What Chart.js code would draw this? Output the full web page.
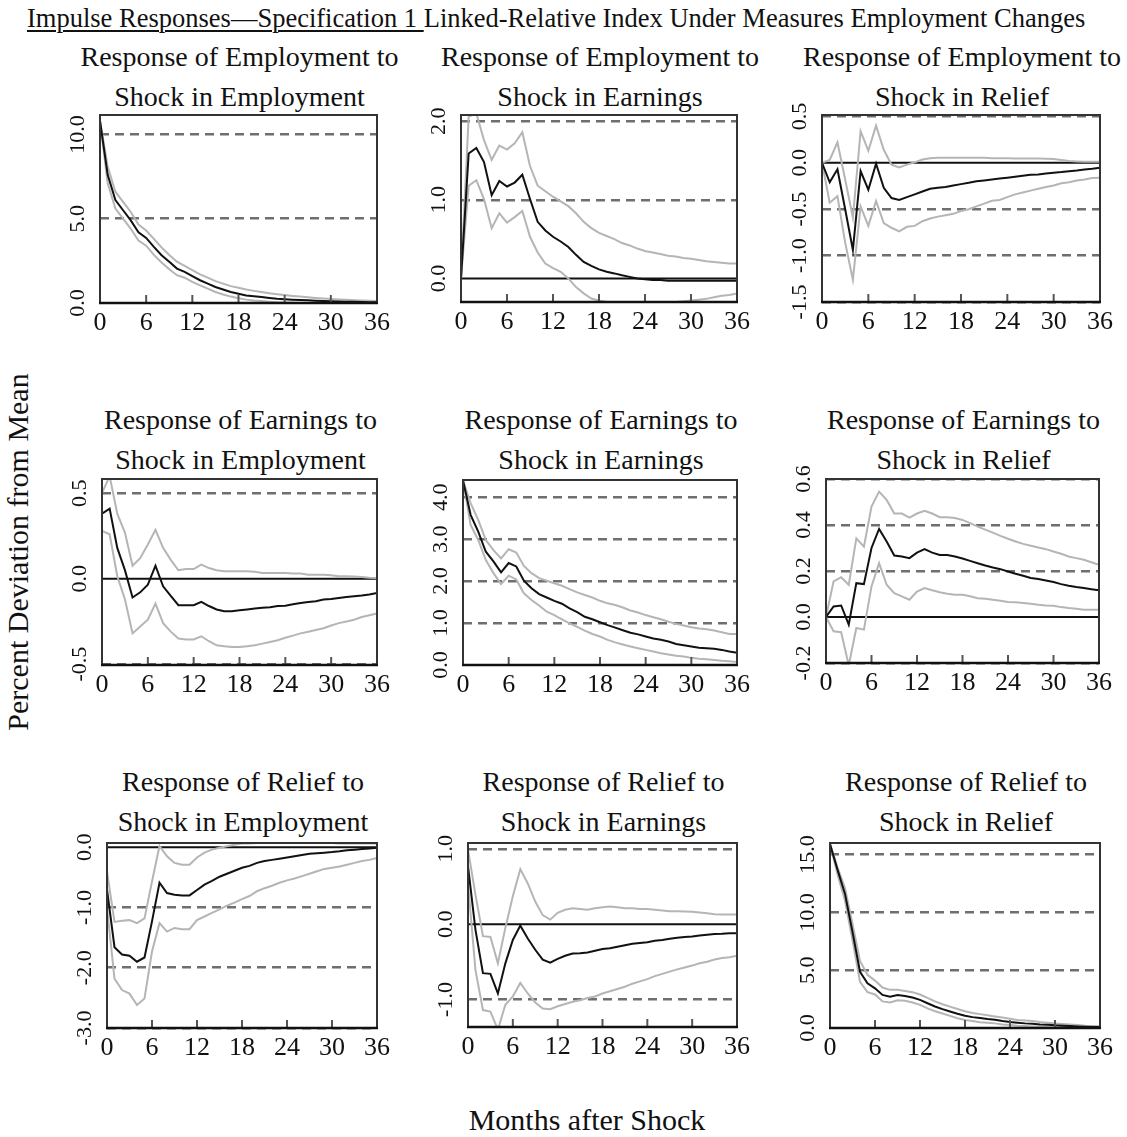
<!DOCTYPE html>
<html>
<head>
<meta charset="utf-8">
<title>Impulse Responses</title>
<script src="https://cdn.jsdelivr.net/npm/chart.js@4"></script>
<style>
  body {
    margin: 0;
    width: 1127px;
    height: 1137px;
    position: relative;
    overflow: hidden;
    background: #fff;
    color: #111;
    font-family: 'Liberation Serif', 'Times New Roman', serif;
  }
  .abs { position: absolute; }
  #head { left: 27px; top: 3px; font-size: 26.5px; line-height: 30px; white-space: nowrap; }
  #head u { text-decoration-thickness: 2px; text-underline-offset: 3px; }
  .ttl { font-size: 28px; line-height: 40px; text-align: center; white-space: nowrap; transform: translateX(-50%); }
  #ylab { left: 18px; top: 552px; font-size: 30px; white-space: nowrap; transform: translate(-50%, -50%) rotate(-90deg); }
  #xlab { left: 587px; top: 1120px; font-size: 30px; white-space: nowrap; transform: translate(-50%, -50%); }
  canvas { position: absolute; }
</style>
</head>
<body>
<div id="head" class="abs"><u>Impulse Responses—Specification 1 </u>Linked-Relative Index Under Measures Employment Changes</div>
<div id="ylab" class="abs">Percent Deviation from Mean</div>
<div id="xlab" class="abs">Months after Shock</div>

<script>
// horizon in months
const months = [0, 1, 2, 3, 4, 5, 6, 7, 8, 9, 10, 11, 12, 13, 14, 15, 16, 17, 18,
  19, 20, 21, 22, 23, 24, 25, 26, 27, 28, 29, 30, 31, 32, 33, 34, 35, 36];
const monthTicks = [0, 6, 12, 18, 24, 30, 36];

// Employment <- Employment
const empEmpMid = [10.8, 7.6, 6.1, 5.5, 4.9, 4.2, 3.86, 3.33, 2.83, 2.44, 2.04, 1.85, 1.6, 1.35, 1.15, 0.95, 0.8, 0.65, 0.55, 0.45, 0.4, 0.36, 0.3, 0.25, 0.22, 0.2, 0.18, 0.16, 0.14, 0.12, 0.11, 0.09, 0.08, 0.07, 0.06, 0.05, 0.05];
const empEmpUp = [10.8, 8.1, 6.6, 6.0, 5.4, 4.65, 4.3, 3.8, 3.3, 2.85, 2.45, 2.2, 1.95, 1.7, 1.5, 1.3, 1.15, 1.0, 0.9, 0.8, 0.72, 0.65, 0.58, 0.52, 0.47, 0.42, 0.38, 0.34, 0.3, 0.27, 0.24, 0.21, 0.19, 0.17, 0.15, 0.13, 0.12];
const empEmpLo = [10.8, 7.1, 5.6, 5.0, 4.4, 3.7, 3.4, 2.85, 2.4, 2.0, 1.65, 1.5, 1.25, 1.05, 0.85, 0.65, 0.5, 0.38, 0.28, 0.2, 0.15, 0.12, 0.08, 0.05, 0.03, 0.02, 0.0, -0.01, -0.02, -0.02, -0.03, -0.03, -0.03, -0.03, -0.03, -0.02, -0.02];
const empEmpTicks = [0, 5, 10];

// Employment <- Earnings
const empEarnMid = [0, 1.59, 1.66, 1.48, 1.06, 1.24, 1.17, 1.22, 1.32, 1.01, 0.72, 0.61, 0.53, 0.47, 0.40, 0.30, 0.21, 0.16, 0.115, 0.085, 0.064, 0.04, 0.02, 0.0, -0.01, -0.02, -0.02, -0.03, -0.03, -0.03, -0.03, -0.03, -0.03, -0.03, -0.03, -0.03, -0.03];
const empEarnUp = [0, 2.06, 2.1, 1.76, 1.51, 1.69, 1.64, 1.72, 1.86, 1.43, 1.18, 1.11, 1.04, 0.98, 0.92, 0.83, 0.72, 0.64, 0.58, 0.54, 0.50, 0.45, 0.42, 0.38, 0.35, 0.33, 0.31, 0.29, 0.28, 0.26, 0.25, 0.235, 0.22, 0.21, 0.20, 0.19, 0.19];
const empEarnLo = [0, 1.18, 1.25, 1.01, 0.64, 0.83, 0.71, 0.78, 0.86, 0.53, 0.33, 0.19, 0.13, 0.085, 0.0, -0.11, -0.19, -0.255, -0.28, -0.30, -0.31, -0.32, -0.32, -0.32, -0.32, -0.32, -0.32, -0.31, -0.30, -0.29, -0.28, -0.27, -0.26, -0.24, -0.22, -0.21, -0.19];
const empEarnTicks = [0, 1, 2];

// Employment <- Relief
const empRelMid = [0, -0.21, -0.07, -0.5, -0.94, -0.09, -0.29, -0.01, -0.27, -0.38, -0.40, -0.37, -0.34, -0.31, -0.28, -0.27, -0.26, -0.245, -0.23, -0.216, -0.20, -0.19, -0.18, -0.17, -0.16, -0.15, -0.14, -0.13, -0.126, -0.115, -0.108, -0.10, -0.09, -0.083, -0.072, -0.065, -0.054];
const empRelUp = [0, 0.03, 0.22, -0.18, -0.59, 0.34, 0.13, 0.40, 0.14, -0.02, -0.05, -0.02, 0.005, 0.035, 0.05, 0.054, 0.054, 0.054, 0.054, 0.054, 0.054, 0.054, 0.05, 0.05, 0.05, 0.047, 0.047, 0.045, 0.045, 0.043, 0.04, 0.03, 0.02, 0.015, 0.01, 0.01, 0.01];
const empRelLo = [0, -0.43, -0.36, -0.86, -1.26, -0.47, -0.68, -0.41, -0.65, -0.70, -0.74, -0.69, -0.68, -0.63, -0.60, -0.58, -0.565, -0.55, -0.52, -0.50, -0.47, -0.44, -0.41, -0.40, -0.37, -0.34, -0.32, -0.30, -0.28, -0.26, -0.245, -0.22, -0.21, -0.19, -0.18, -0.165, -0.16];
const empRelTicks = [-1.5, -1, -0.5, 0, 0.5];

// Earnings <- Employment
const earnEmpMid = [0.38, 0.41, 0.18, 0.05, -0.11, -0.08, -0.035, 0.076, -0.045, -0.10, -0.155, -0.155, -0.155, -0.136, -0.16, -0.18, -0.19, -0.19, -0.185, -0.18, -0.175, -0.17, -0.167, -0.16, -0.158, -0.15, -0.142, -0.136, -0.132, -0.122, -0.119, -0.113, -0.107, -0.103, -0.099, -0.093, -0.084];
const earnEmpUp = [0.50, 0.60, 0.38, 0.27, 0.076, 0.12, 0.20, 0.286, 0.18, 0.11, 0.049, 0.056, 0.056, 0.082, 0.062, 0.049, 0.043, 0.043, 0.043, 0.043, 0.04, 0.033, 0.033, 0.033, 0.033, 0.03, 0.03, 0.023, 0.023, 0.023, 0.02, 0.014, 0.014, 0.012, 0.01, 0.006, 0.004];
const earnEmpLo = [0.28, 0.26, 0.014, -0.12, -0.32, -0.28, -0.24, -0.146, -0.26, -0.31, -0.35, -0.356, -0.356, -0.337, -0.366, -0.39, -0.395, -0.40, -0.40, -0.395, -0.39, -0.38, -0.37, -0.36, -0.346, -0.333, -0.32, -0.31, -0.30, -0.29, -0.274, -0.26, -0.25, -0.24, -0.224, -0.214, -0.204];
const earnEmpTicks = [-0.5, 0, 0.5];

// Earnings <- Earnings
const earnEarnMid = [4.40, 3.58, 3.18, 2.70, 2.47, 2.21, 2.43, 2.35, 2.01, 1.83, 1.69, 1.61, 1.53, 1.46, 1.35, 1.26, 1.15, 1.09, 1.02, 0.95, 0.89, 0.83, 0.77, 0.73, 0.68, 0.63, 0.60, 0.56, 0.50, 0.47, 0.44, 0.41, 0.40, 0.39, 0.36, 0.32, 0.29];
const earnEarnUp = [4.40, 3.86, 3.46, 2.98, 2.74, 2.54, 2.76, 2.68, 2.36, 2.19, 2.07, 2.01, 1.95, 1.89, 1.81, 1.73, 1.67, 1.61, 1.53, 1.47, 1.43, 1.37, 1.30, 1.25, 1.19, 1.14, 1.09, 1.03, 0.98, 0.94, 0.90, 0.87, 0.85, 0.82, 0.78, 0.74, 0.74];
const earnEarnLo = [4.40, 3.34, 2.98, 2.50, 2.19, 1.93, 2.13, 2.04, 1.71, 1.55, 1.42, 1.27, 1.19, 1.09, 0.99, 0.91, 0.82, 0.74, 0.68, 0.60, 0.54, 0.49, 0.44, 0.40, 0.36, 0.32, 0.28, 0.25, 0.22, 0.20, 0.17, 0.15, 0.135, 0.12, 0.10, 0.09, 0.07];
const earnEarnTicks = [0, 1, 2, 3, 4];

// Earnings <- Relief
const earnRelMid = [0, 0.046, 0.05, -0.033, 0.147, 0.143, 0.30, 0.383, 0.328, 0.267, 0.263, 0.256, 0.28, 0.295, 0.28, 0.27, 0.27, 0.263, 0.254, 0.244, 0.234, 0.224, 0.215, 0.208, 0.198, 0.188, 0.179, 0.17, 0.165, 0.159, 0.152, 0.143, 0.136, 0.13, 0.126, 0.121, 0.116];
const earnRelUp = [0, 0.155, 0.173, 0.14, 0.342, 0.306, 0.48, 0.545, 0.509, 0.45, 0.45, 0.432, 0.45, 0.462, 0.45, 0.434, 0.434, 0.43, 0.422, 0.408, 0.393, 0.38, 0.367, 0.353, 0.34, 0.328, 0.318, 0.31, 0.302, 0.295, 0.285, 0.275, 0.263, 0.256, 0.249, 0.238, 0.227];
const earnRelLo = [0, -0.062, -0.066, -0.21, -0.048, -0.055, 0.133, 0.234, 0.14, 0.104, 0.09, 0.075, 0.111, 0.126, 0.116, 0.108, 0.101, 0.097, 0.097, 0.09, 0.082, 0.079, 0.075, 0.071, 0.065, 0.064, 0.061, 0.058, 0.053, 0.05, 0.049, 0.043, 0.039, 0.036, 0.032, 0.032, 0.032];
const earnRelTicks = [-0.2, 0, 0.2, 0.4, 0.6];

// Relief <- Employment
const relEmpMid = [-0.70, -1.66, -1.78, -1.80, -1.90, -1.83, -1.23, -0.59, -0.76, -0.79, -0.80, -0.80, -0.71, -0.62, -0.56, -0.49, -0.44, -0.39, -0.34, -0.31, -0.26, -0.23, -0.21, -0.19, -0.17, -0.15, -0.13, -0.11, -0.10, -0.09, -0.08, -0.067, -0.05, -0.04, -0.03, -0.02, -0.01];
const relEmpUp = [-0.40, -1.24, -1.22, -1.21, -1.26, -1.18, -0.57, 0.02, -0.15, -0.26, -0.29, -0.29, -0.17, -0.09, -0.04, -0.01, 0.017, 0.04, 0.06, 0.06, 0.07, 0.07, 0.07, 0.07, 0.07, 0.07, 0.07, 0.07, 0.07, 0.07, 0.07, 0.06, 0.06, 0.06, 0.06, 0.06, 0.06];
const relEmpLo = [-1.0, -2.18, -2.37, -2.43, -2.62, -2.51, -1.73, -1.26, -1.40, -1.34, -1.36, -1.36, -1.21, -1.15, -1.09, -1.03, -0.97, -0.92, -0.86, -0.81, -0.73, -0.68, -0.64, -0.59, -0.55, -0.52, -0.48, -0.44, -0.40, -0.36, -0.34, -0.32, -0.29, -0.26, -0.23, -0.21, -0.18];
const relEmpTicks = [-3, -2, -1, 0];

// Relief <- Earnings
const relEarnMid = [0.77, -0.075, -0.65, -0.66, -0.92, -0.52, -0.21, -0.02, -0.19, -0.34, -0.47, -0.51, -0.46, -0.42, -0.39, -0.385, -0.376, -0.354, -0.33, -0.32, -0.30, -0.28, -0.26, -0.25, -0.24, -0.22, -0.21, -0.195, -0.18, -0.17, -0.165, -0.15, -0.14, -0.13, -0.128, -0.12, -0.12];
const relEarnUp = [0.99, 0.39, -0.16, -0.17, -0.52, -0.05, 0.37, 0.73, 0.54, 0.30, 0.12, 0.06, 0.15, 0.19, 0.21, 0.20, 0.19, 0.21, 0.225, 0.235, 0.225, 0.21, 0.21, 0.20, 0.20, 0.19, 0.18, 0.17, 0.17, 0.168, 0.164, 0.155, 0.146, 0.133, 0.128, 0.128, 0.128];
const relEarnLo = [0.54, -0.61, -1.14, -1.16, -1.40, -1.07, -0.96, -0.78, -0.92, -1.04, -1.12, -1.13, -1.09, -1.06, -1.03, -1.01, -0.98, -0.96, -0.92, -0.89, -0.86, -0.83, -0.79, -0.76, -0.73, -0.69, -0.66, -0.63, -0.60, -0.575, -0.55, -0.52, -0.50, -0.47, -0.45, -0.44, -0.42];
const relEarnTicks = [-1, 0, 1];

// Relief <- Relief
const relRelMid = [15.9, 13.7, 11.6, 8.3, 4.86, 3.86, 3.43, 2.86, 2.71, 2.86, 2.77, 2.63, 2.43, 2.14, 1.86, 1.63, 1.43, 1.23, 1.06, 0.94, 0.86, 0.77, 0.71, 0.60, 0.51, 0.46, 0.40, 0.37, 0.31, 0.29, 0.23, 0.20, 0.17, 0.14, 0.11, 0.09, 0.09];
const relRelUp = [15.9, 13.9, 12.1, 9.0, 5.8, 4.6, 4.1, 3.5, 3.3, 3.3, 3.2, 3.1, 2.9, 2.6, 2.3, 2.05, 1.85, 1.65, 1.45, 1.3, 1.2, 1.1, 1.0, 0.9, 0.8, 0.7, 0.65, 0.6, 0.52, 0.46, 0.4, 0.35, 0.3, 0.25, 0.2, 0.18, 0.16];
const relRelLo = [15.9, 13.3, 11.0, 7.6, 4.0, 3.1, 2.9, 2.3, 2.2, 2.4, 2.35, 2.2, 2.0, 1.7, 1.45, 1.25, 1.05, 0.85, 0.7, 0.6, 0.5, 0.45, 0.4, 0.3, 0.25, 0.2, 0.17, 0.14, 0.1, 0.08, 0.05, 0.04, 0.03, 0.02, 0.01, 0.0, 0.0];
const relRelTicks = [0, 5, 10, 15];

// panel layout: plot box [left, top, right, bottom] in page pixels
const panels = [
  { title: ['Response of Employment to', 'Shock in Employment'], mid: empEmpMid, up: empEmpUp, lo: empEmpLo, ticks: empEmpTicks, min: 0, max: 11.15, box: [100, 115, 377, 303], titleTop: 37 },
  { title: ['Response of Employment to', 'Shock in Earnings'], mid: empEarnMid, up: empEarnUp, lo: empEarnLo, ticks: empEarnTicks, min: -0.3, max: 2.08, box: [461, 115, 737, 302], titleTop: 37 },
  { title: ['Response of Employment to', 'Shock in Relief'], mid: empRelMid, up: empRelUp, lo: empRelLo, ticks: empRelTicks, min: -1.5, max: 0.515, box: [822, 115, 1100, 302], titleTop: 37 },
  { title: ['Response of Earnings to', 'Shock in Employment'], mid: earnEmpMid, up: earnEmpUp, lo: earnEmpLo, ticks: earnEmpTicks, min: -0.505, max: 0.583, box: [102, 479, 377, 665], titleTop: 400 },
  { title: ['Response of Earnings to', 'Shock in Earnings'], mid: earnEarnMid, up: earnEarnUp, lo: earnEarnLo, ticks: earnEarnTicks, min: 0, max: 4.41, box: [463, 480, 737, 665], titleTop: 400 },
  { title: ['Response of Earnings to', 'Shock in Relief'], mid: earnRelMid, up: earnRelUp, lo: earnRelLo, ticks: earnRelTicks, min: -0.2, max: 0.6, box: [826, 479, 1099, 663], titleTop: 400 },
  { title: ['Response of Relief to', 'Shock in Employment'], mid: relEmpMid, up: relEmpUp, lo: relEmpLo, ticks: relEmpTicks, min: -3.0, max: 0.07, box: [107, 843, 377, 1028], titleTop: 762 },
  { title: ['Response of Relief to', 'Shock in Earnings'], mid: relEarnMid, up: relEarnUp, lo: relEarnLo, ticks: relEarnTicks, min: -1.365, max: 1.077, box: [468, 843, 737, 1027], titleTop: 762 },
  { title: ['Response of Relief to', 'Shock in Relief'], mid: relRelMid, up: relRelUp, lo: relRelLo, ticks: relRelTicks, min: 0, max: 16.0, box: [830, 843, 1100, 1028], titleTop: 762 }
];

const FONT = "'Liberation Serif', 'Times New Roman', serif";
const ML = 60, MT = 24, MR = 30, MB = 44;
const Y_FONT = 22, X_FONT = 26;

// box around the plot plus short inward ticks on the month axis
const framePlugin = {
  id: 'frame',
  afterDatasetsDraw(chart) {
    const { ctx, chartArea: a } = chart;
    const xs = chart.scales.x;
    ctx.save();
    ctx.strokeStyle = '#555';
    ctx.lineWidth = 2;
    xs.ticks.forEach(t => {
      const px = xs.getPixelForValue(t.value);
      ctx.beginPath();
      ctx.moveTo(px, a.bottom);
      ctx.lineTo(px, a.bottom - 8);
      ctx.stroke();
    });
    ctx.strokeStyle = '#333';
    ctx.beginPath();
    ctx.moveTo(a.left, a.bottom);
    ctx.lineTo(a.left, a.top);
    ctx.lineTo(a.right, a.top);
    ctx.lineTo(a.right, a.bottom);
    ctx.stroke();
    ctx.strokeStyle = '#111';
    ctx.lineWidth = 2.5;
    ctx.beginPath();
    ctx.moveTo(a.left - 1, a.bottom);
    ctx.lineTo(a.right + 1, a.bottom);
    ctx.stroke();
    ctx.restore();
  }
};

// solid reference line at zero
const zeroPlugin = {
  id: 'zeroLine',
  beforeDatasetsDraw(chart) {
    const y = chart.scales.y;
    if (y.min > 0 || y.max < 0) return;
    const py = y.getPixelForValue(0);
    const { ctx, chartArea: a } = chart;
    ctx.save();
    ctx.strokeStyle = '#111';
    ctx.lineWidth = 2;
    ctx.beginPath();
    ctx.moveTo(a.left, py);
    ctx.lineTo(a.right, py);
    ctx.stroke();
    ctx.restore();
  }
};

const measureCtx = document.createElement('canvas').getContext('2d');
measureCtx.font = Y_FONT + 'px ' + FONT;

function fmt(v) { return v.toFixed(1); }

panels.forEach(p => {
  const [L, T, R, B] = p.box;

  const t = document.createElement('div');
  t.className = 'abs ttl';
  t.style.left = ((L + R) / 2 + 1) + 'px';
  t.style.top = p.titleTop + 'px';
  t.innerHTML = p.title.join('<br>');
  document.body.appendChild(t);

  const canvas = document.createElement('canvas');
  canvas.width = R - L + ML + MR;
  canvas.height = B - T + MT + MB;
  canvas.style.left = (L - ML) + 'px';
  canvas.style.top = (T - MT) + 'px';
  document.body.appendChild(canvas);

  // centre the rotated y labels 22px left of the box
  const widest = Math.max(...p.ticks.map(v => measureCtx.measureText(fmt(v)).width));
  const yPad = 22 - widest / 2;

  new Chart(canvas, {
    type: 'line',
    data: {
      datasets: [
        { data: months.map((m, i) => ({ x: m, y: p.mid[i] })), borderColor: '#111', borderWidth: 2 },
        { data: months.map((m, i) => ({ x: m, y: p.up[i] })), borderColor: '#b5b5b5', borderWidth: 2 },
        { data: months.map((m, i) => ({ x: m, y: p.lo[i] })), borderColor: '#b5b5b5', borderWidth: 2 }
      ]
    },
    options: {
      responsive: false,
      animation: false,
      events: [],
      clip: 0,
      elements: { point: { radius: 0 }, line: { tension: 0 } },
      layout: { padding: { left: 0, top: MT, right: MR, bottom: 0 } },
      plugins: { legend: { display: false }, tooltip: { enabled: false } },
      scales: {
        x: {
          type: 'linear',
          min: 0,
          max: 36,
          afterBuildTicks: s => { s.ticks = monthTicks.map(v => ({ value: v })); },
          afterFit: s => { s.height = MB; },
          grid: { display: false, drawTicks: false },
          border: { display: false },
          ticks: { font: { family: FONT, size: X_FONT }, color: '#111', padding: 5, maxRotation: 0, autoSkip: false }
        },
        y: {
          type: 'linear',
          min: p.min,
          max: p.max,
          afterBuildTicks: s => { s.ticks = p.ticks.map(v => ({ value: v })); },
          afterFit: s => { s.width = ML; },
          grid: {
            drawTicks: false,
            lineWidth: 2.5,
            color: c => (c.tick && c.tick.value === 0) ? 'rgba(0,0,0,0)' : '#6f6f6f'
          },
          border: { display: false, dash: [9, 6] },
          ticks: {
            font: { family: FONT, size: Y_FONT },
            color: '#111',
            minRotation: 90,
            maxRotation: 90,
            crossAlign: 'center',
            padding: yPad,
            autoSkip: false,
            callback: v => fmt(v)
          }
        }
      }
    },
    plugins: [zeroPlugin, framePlugin]
  });
});
</script>
</body>
</html>
